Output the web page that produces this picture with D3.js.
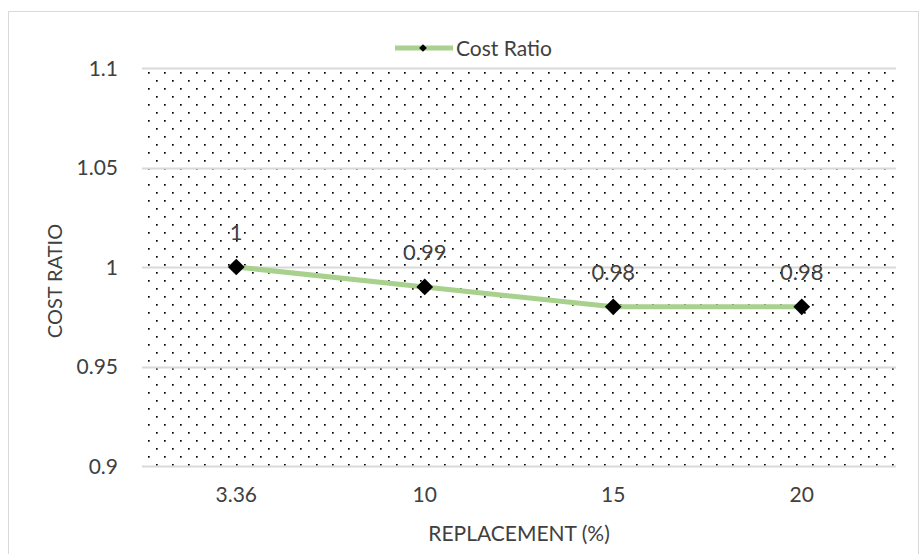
<!DOCTYPE html>
<html>
<head>
<meta charset="utf-8">
<script src="https://cdn.jsdelivr.net/npm/d3@7"></script>
<style>
  html, body { margin: 0; padding: 0; background: #fff; }
  svg { display: block; }
  text { font-family: Lato, "Open Sans", sans-serif; fill: #404040; }
</style>
</head>
<body>
<svg id="chart" width="921" height="554"></svg>
<script>
// Replacement levels (%) and the corresponding cost ratios
const categories = ["3.36", "10", "15", "20"];
const costRatio = [1, 0.99, 0.98, 0.98];
const yTicks = [0.9, 0.95, 1, 1.05, 1.1];
const seriesName = "Cost Ratio";
const xTitle = "REPLACEMENT (%)";
const yTitle = "COST RATIO";

const W = 921, H = 554;
const plot = { left: 142, right: 896, top: 68, bottom: 466 };
const FONT = "Lato, 'Open Sans', sans-serif";

const svg = d3.select("#chart");

// Chart frame
svg.append("rect")
  .attr("x", 8.5).attr("y", 11.5)
  .attr("width", W - 11).attr("height", H)
  .attr("fill", "#fff").attr("stroke", "#d9d9d9").attr("stroke-width", 1);

// Dotted fill for the plot area
const defs = svg.append("defs");
const pat = defs.append("pattern")
  .attr("id", "dots").attr("patternUnits", "userSpaceOnUse")
  .attr("width", 16).attr("height", 16)
  .attr("x", plot.left + 6).attr("y", plot.top + 4);
pat.append("rect").attr("x", 0).attr("y", 0).attr("width", 1.7).attr("height", 1.7).attr("fill", "#000");
pat.append("rect").attr("x", 8).attr("y", 8).attr("width", 1.7).attr("height", 1.7).attr("fill", "#000");

const x = d3.scaleBand().domain(categories).range([plot.left, plot.right]);
const y = d3.scaleLinear().domain([0.9, 1.1]).range([plot.bottom, plot.top]);

svg.append("rect")
  .attr("x", plot.left).attr("y", plot.top)
  .attr("width", plot.right - plot.left).attr("height", plot.bottom - plot.top)
  .attr("fill", "url(#dots)");

// Horizontal gridlines
svg.append("g").selectAll("line").data(yTicks).join("line")
  .attr("x1", plot.left).attr("x2", plot.right)
  .attr("y1", d => Math.round(y(d)) + 0.5).attr("y2", d => Math.round(y(d)) + 0.5)
  .attr("stroke", "#d9d9d9").attr("stroke-width", 2);

// Y axis labels
const yAxis = svg.append("g")
  .attr("transform", `translate(${plot.left - 24},0)`)
  .call(d3.axisLeft(y).tickValues(yTicks).tickSize(0).tickPadding(0).tickFormat(d3.format("")));
yAxis.select(".domain").remove();
yAxis.selectAll("text")
  .attr("font-size", 21).attr("fill", "#404040").attr("dy", "0.35em")
  .style("font-family", FONT);

// X axis labels
const xAxis = svg.append("g")
  .attr("transform", `translate(0,${plot.bottom})`)
  .call(d3.axisBottom(x).tickSize(0).tickPadding(21));
xAxis.select(".domain").remove();
xAxis.selectAll("text")
  .attr("font-size", 21).attr("fill", "#404040")
  .style("font-family", FONT);

// Axis titles
svg.append("text")
  .attr("x", (plot.left + plot.right) / 2).attr("y", 541)
  .attr("text-anchor", "middle").attr("font-size", 21)
  .text(xTitle);
svg.append("text")
  .attr("transform", "translate(62,281) rotate(-90)")
  .attr("text-anchor", "middle").attr("font-size", 20)
  .text(yTitle);

const pts = categories.map((c, i) => ({ c, v: costRatio[i] }));
const cx = d => x(d.c) + x.bandwidth() / 2;

// Series line
svg.append("path")
  .datum(pts)
  .attr("fill", "none").attr("stroke", "#a9d18e").attr("stroke-width", 5)
  .attr("stroke-linejoin", "round")
  .attr("d", d3.line().x(cx).y(d => y(d.v)));

// Diamond markers
svg.append("g").selectAll("path").data(pts).join("path")
  .attr("transform", d => `translate(${cx(d)},${y(d.v)}) rotate(45)`)
  .attr("d", d3.symbol().type(d3.symbolSquare).size(140))
  .attr("fill", "#000");

// Value labels
svg.append("g").selectAll("text").data(pts).join("text")
  .attr("x", cx).attr("y", d => y(d.v) - 27)
  .attr("text-anchor", "middle").attr("font-size", 22)
  .attr("fill", "#404040")
  .text(d => d3.format("")(d.v));

// Legend
const lg = svg.append("g");
lg.append("line").attr("x1", 395).attr("x2", 453).attr("y1", 48).attr("y2", 48)
  .attr("stroke", "#a9d18e").attr("stroke-width", 5);
lg.append("path").attr("transform", "translate(423,48) rotate(45)")
  .attr("d", d3.symbol().type(d3.symbolSquare).size(30)).attr("fill", "#000");
lg.append("text").attr("x", 456).attr("y", 56).attr("font-size", 21).text(seriesName);
</script>
</body>
</html>
